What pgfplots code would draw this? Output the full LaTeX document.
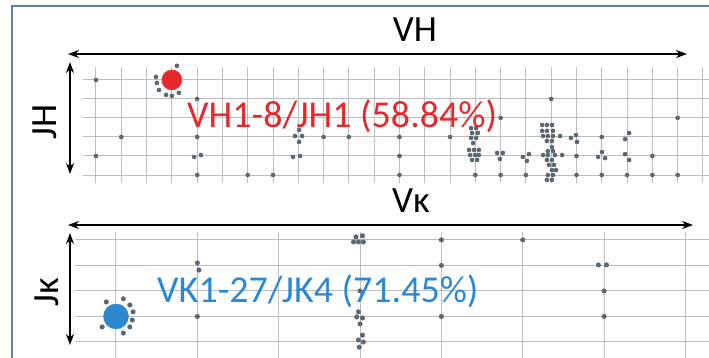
\documentclass[border=0pt]{standalone}
\usepackage{pgfplots}
\pgfplotsset{compat=1.18}
\usepackage{fontspec}
\setmainfont{Carlito}
\usetikzlibrary{arrows.meta}
\definecolor{dotgray}{HTML}{5C6870}
\definecolor{gridgray}{HTML}{BDBDBD}
\definecolor{vhred}{HTML}{E5282C}
\definecolor{vkblue}{HTML}{2D88D2}
\definecolor{framecol}{HTML}{5B80A3}
\pgfplotsset{
  dotgrid/.style={
    scale only axis, clip=false,
    axis line style={draw=none},
    major tick length=0pt,
    xticklabels={}, yticklabels={},
    grid=major,
    major grid style={gridgray, line width=1pt},
  }
}
\begin{document}
\begin{tikzpicture}[x=1pt,y=1pt]
\useasboundingbox (0,0) rectangle (709,358);
\clip (0,0) rectangle (709,358);
% frame
\draw[framecol, line width=2pt] (12,-5) -- (12,352) -- (720,352);

% ---------- VH / JH panel ----------
\begin{axis}[dotgrid,
  at={(83pt,175pt)}, anchor=south west,
  width=626pt, height=116pt,
  xmin=-0.514, xmax=24.24, ymin=-0.42, ymax=5.68,
  xtick={0,...,24}, ytick={0,...,5}]
\addplot[only marks, mark=*, mark size=2.1pt, color=dotgray, mark options={draw=none}] coordinates {
 (0,5) (0,1) (1,2) (4,4) (4,2) (4,0) (6,0) (7,0) (9,2) (10,2)
 (12,2) (12,1) (12,0) (14,2) (15,0) (16,3) (16,0) (17,0) (18,4)
 (19,1) (19,0) (20,2) (20,0) (21,0) (22,1) (22,0) (23,3) (23,0)
 (3.88,0.95) (4.15,1.05)
 (7.87,2.05) (8.03,2.37) (8.15,2.05) (8.03,1.74) (7.79,0.95) (8.07,1.0)
 (3.20,5.74) (2.37,5.16) (2.41,4.84) (2.49,4.47) (2.77,4.21) (3.0,4.16) (3.28,4.32)
 (14.83,2.47) (15.03,2.47) (14.87,2.21) (15.10,2.21) (14.83,1.95) (15.03,1.95) (14.91,1.68)
 (14.75,1.32) (14.95,1.32) (15.14,1.32) (14.79,1.05) (14.99,1.05) (15.14,1.05) (14.87,0.79) (15.07,0.79)
 (15.86,1.16) (16.09,1.16) (15.97,0.84)
 (16.88,0.95) (17.12,1.10) (17.04,0.74)
 (17.64,2.63) (17.83,2.63) (18.03,2.63)
 (17.64,2.32) (17.83,2.32) (18.07,2.32)
 (17.68,2.05) (17.87,2.05) (18.07,2.05) (18.35,2.05)
 (17.83,1.79) (18.03,1.79) (18.03,1.47)
 (17.87,1.26) (18.07,1.26)
 (17.68,1.05) (17.87,1.05) (18.15,1.05) (18.43,1.05)
 (17.83,0.79) (18.03,0.79) (17.91,0.53) (18.11,0.53)
 (18.03,0.26) (18.19,0.26) (17.87,0.0) (18.07,0.0) (17.83,-0.26) (18.03,-0.26)
 (18.78,1.95) (18.98,2.10) (19.02,1.74)
 (20.01,1.21) (19.85,0.95) (20.13,0.89)
 (21.08,2.21) (20.92,1.89) (20.92,1.10) (21.08,0.79)
};
\addplot[only marks, mark=*, mark size=10pt, color=vhred, mark options={draw=none}] coordinates {(3,5)};
\end{axis}

% ---------- Vk / Jk panel ----------
\begin{axis}[dotgrid,
  at={(75pt,0pt)}, anchor=south west,
  width=634pt, height=126pt,
  xmin=-0.504, xmax=7.29, ymin=-0.627, ymax=4.31,
  xtick={0,...,7}, ytick={0,...,4}]
\addplot[only marks, mark=*, mark size=2.3pt, color=dotgray, mark options={draw=none}] coordinates {
 (-0.12,1.57) (0.09,1.69) (0.17,1.45) (0.21,1.18) (0.20,0.86) (0.17,0.59) (0.09,0.35) (-0.17,0.59)
 (1.0,3.10) (1.02,2.82) (1,1)
 (2.95,4.12) (3.03,4.16) (2.92,3.92) (2.98,3.92) (3.04,3.92)
 (3,2)
 (2.98,1.18) (2.96,0.98) (3.03,0.94) (3.0,0.71) (3.03,0.27) (2.98,0.08) (3.04,0.0) (2.99,-0.2)
 (4,4) (4,3) (4,1) (5,4)
 (5.93,3.02) (6.03,3.02) (6,2) (6,1)
};
\addplot[only marks, mark=*, mark size=12.5pt, color=vkblue, mark options={draw=none}] coordinates {(0,1)};
\end{axis}

% arrows
\draw[line width=2pt, {Stealth[length=11pt,width=8pt]}-{Stealth[length=11pt,width=8pt]}] (68,304) -- (687,304);
\draw[line width=2pt, {Stealth[length=11pt,width=8pt]}-{Stealth[length=11pt,width=8pt]}] (70,296) -- (70,184);
\draw[line width=2pt, {Stealth[length=11pt,width=8pt]}-{Stealth[length=11pt,width=8pt]}] (68,133) -- (693,133);
\draw[line width=2pt, {Stealth[length=11pt,width=8pt]}-{Stealth[length=11pt,width=8pt]}] (70,125) -- (70,13);

% labels
\node[anchor=base, inner sep=0pt, font=\fontsize{37}{40}\selectfont] at (415,316) {VH};
\node[anchor=base, inner sep=0pt, font=\fontsize{37}{40}\selectfont] at (411,145) {Vκ};
\node[anchor=center, rotate=90, inner sep=0pt, font=\fontsize{37}{40}\selectfont] at (44.5,236) {JH};
\node[anchor=center, rotate=90, inner sep=0pt, font=\fontsize{37}{40}\selectfont] at (46.5,66) {Jκ};
\node[anchor=base west, inner sep=0pt, text=vhred, font=\fontsize{38}{40}\selectfont] at (187,230) {VH1-8/JH1 (58.84\%)};
\node[anchor=base west, inner sep=0pt, text=vkblue, font=\fontsize{38}{40}\selectfont] at (157,55) {VK1-27/JK4 (71.45\%)};
\end{tikzpicture}
\end{document}
